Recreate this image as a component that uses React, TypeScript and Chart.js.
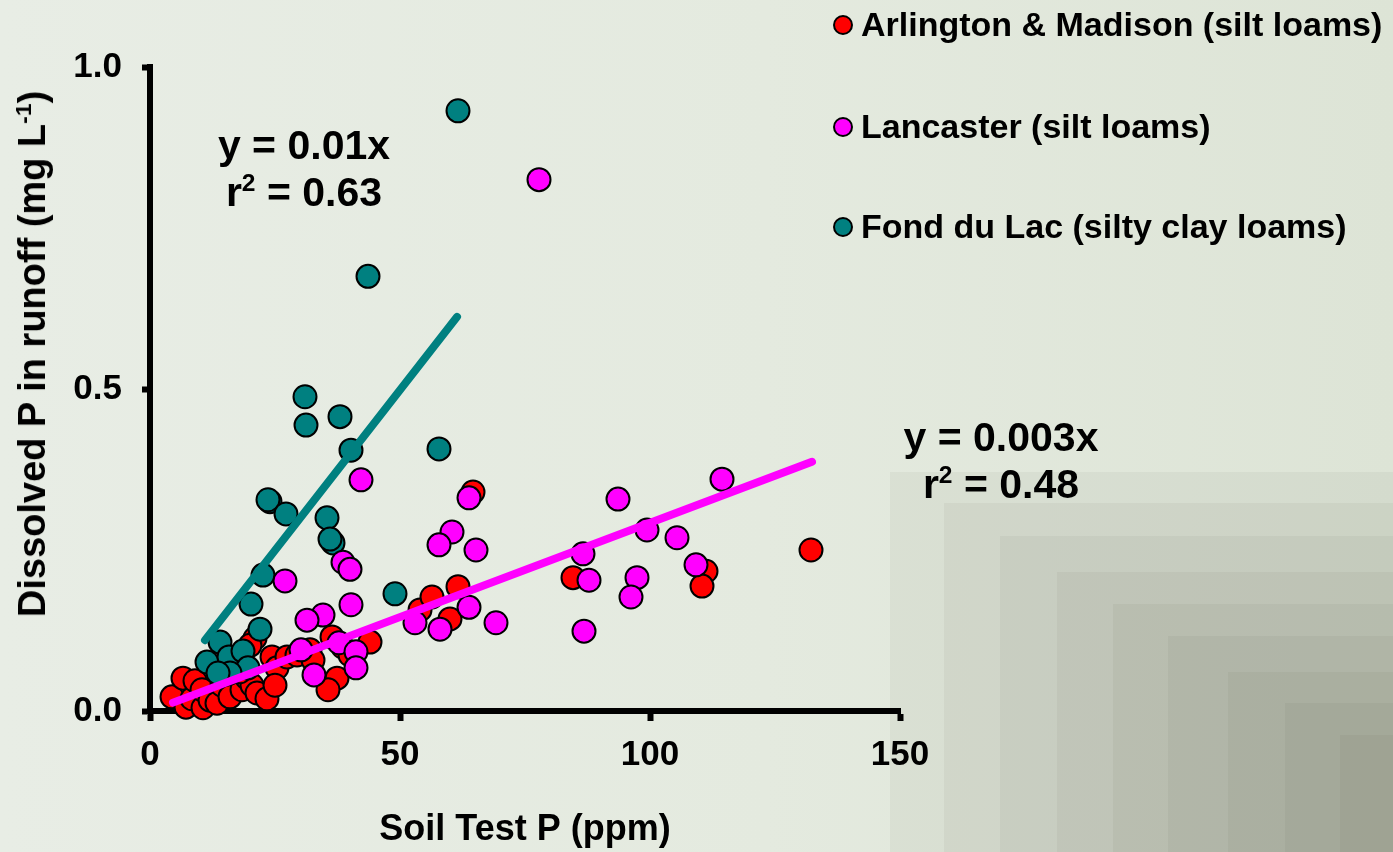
import React, { useEffect, useRef } from "react";
import { Chart, registerables } from "chart.js";

Chart.register(...registerables);

// ---------------- data ----------------
const seriesNames = [
  "Arlington & Madison (silt loams)",
  "Lancaster (silt loams)",
  "Fond du Lac (silty clay loams)",
];
const seriesColors = ["#ff0000", "#ff00ff", "#008080"];

// Soil Test P (ppm), Dissolved P (mg/L)
const arlingtonPoints: [number, number][] = [
  [4.4, 0.022], [6.6, 0.051], [7.2, 0.006], [8.4, 0.019], [9.0, 0.047],
  [10.6, 0.005], [10.4, 0.033], [12.0, 0.017], [13.4, 0.012], [14.4, 0.04],
  [16.0, 0.022], [18.4, 0.033], [19.4, 0.051], [20.4, 0.04], [21.4, 0.028],
  [23.4, 0.019], [21.0, 0.113], [20.0, 0.102], [24.4, 0.084], [25.4, 0.067],
  [25.0, 0.04], [18.0, 0.061], [27.4, 0.084], [29.4, 0.087], [32.0, 0.095],
  [36.4, 0.115], [38.6, 0.099], [44.0, 0.107], [32.6, 0.079], [37.4, 0.051],
  [35.6, 0.033], [40.0, 0.087], [54.0, 0.157], [56.4, 0.177], [61.6, 0.193],
  [60.0, 0.143], [64.6, 0.34], [84.6, 0.207], [111.2, 0.217], [110.4, 0.194],
  [132.2, 0.25],
];

const lancasterPoints: [number, number][] = [
  [77.8, 0.825], [42.2, 0.359], [63.8, 0.331], [93.6, 0.329], [114.4, 0.36],
  [99.4, 0.281], [105.4, 0.269], [86.6, 0.244], [60.4, 0.278], [57.8, 0.258],
  [65.2, 0.25], [38.6, 0.231], [40.0, 0.22], [27.0, 0.202], [87.8, 0.203],
  [97.4, 0.207], [109.2, 0.227], [96.2, 0.177], [40.2, 0.165], [34.6, 0.149],
  [31.4, 0.141], [63.8, 0.161], [53.0, 0.137], [58.0, 0.127], [69.2, 0.137],
  [86.8, 0.124], [30.2, 0.095], [37.8, 0.106], [41.2, 0.092], [41.2, 0.067],
  [32.8, 0.056],
];

const fondDuLacPoints: [number, number][] = [
  [61.6, 0.932], [43.6, 0.675], [31.0, 0.488], [31.2, 0.444], [38.0, 0.457],
  [40.2, 0.405], [57.8, 0.407], [24.0, 0.325], [23.6, 0.328], [27.2, 0.306],
  [35.4, 0.3], [36.6, 0.261], [36.0, 0.267], [22.6, 0.211], [20.2, 0.166],
  [22.0, 0.127], [49.0, 0.182], [14.0, 0.107], [11.4, 0.076], [15.8, 0.084],
  [18.6, 0.093], [19.6, 0.067], [16.0, 0.059], [13.6, 0.059],
];

// trend line end points
const fondDuLacTrend: [number, number][] = [[11.0, 0.11], [61.4, 0.612]];
const lancasterTrend: [number, number][] = [[4.6, 0.013], [132.4, 0.387]];

const fondDuLacEquation = ["y = 0.01x", "0.63"];
const lancasterEquation = ["y = 0.003x", "0.48"];

const xTicks = [0, 50, 100, 150];
const yTicks = [0, 0.5, 1.0];

const xTitle = "Soil Test P (ppm)";

// --------------------------------------
const FONT = "'Liberation Sans', Arial, Helvetica, sans-serif";

const toXY = (pts: [number, number][]) => pts.map(([x, y]) => ({ x, y }));

export default function App() {
  const canvasRef = useRef<HTMLCanvasElement | null>(null);

  useEffect(() => {
    if (!canvasRef.current) return;
    const pointStyle = (i: number) => ({
      backgroundColor: seriesColors[i],
      borderColor: "#000000",
      borderWidth: 2,
      pointRadius: 11.5,
      pointHoverRadius: 11.5,
      pointBorderWidth: 2,
      clip: false as any,
    });
    const chart = new Chart(canvasRef.current, {
      type: "scatter",
      data: {
        datasets: [
          {
            label: "Lancaster trend",
            data: toXY(lancasterTrend),
            showLine: true,
            borderColor: seriesColors[1],
            borderWidth: 8,
            borderCapStyle: "round",
            pointRadius: 0,
            order: 0,
          } as any,
          {
            label: "Fond du Lac trend",
            data: toXY(fondDuLacTrend),
            showLine: true,
            borderColor: seriesColors[2],
            borderWidth: 8,
            borderCapStyle: "round",
            pointRadius: 0,
            order: 1,
          } as any,
          { label: seriesNames[1], data: toXY(lancasterPoints), ...pointStyle(1), order: 2 },
          { label: seriesNames[2], data: toXY(fondDuLacPoints), ...pointStyle(2), order: 3 },
          { label: seriesNames[0], data: toXY(arlingtonPoints), ...pointStyle(0), order: 4 },
        ],
      },
      options: {
        animation: false,
        responsive: false,
        maintainAspectRatio: false,
        events: [],
        layout: { padding: { left: 0, top: 67, right: 493, bottom: 0 } },
        plugins: { legend: { display: false }, tooltip: { enabled: false } },
        scales: {
          x: {
            type: "linear",
            min: 0,
            max: 150,
            z: 1,
            afterFit: (s: any) => {
              s.height = 141;
            },
            afterBuildTicks: (s: any) => {
              s.ticks = xTicks.map((v) => ({ value: v }));
            },
            ticks: {
              color: "#000",
              padding: 13,
              font: { family: FONT, size: 35, weight: "bold" },
              callback: (v: any) => String(v),
            },
            grid: {
              drawOnChartArea: false,
              drawTicks: true,
              tickLength: 10,
              tickWidth: 6,
              tickColor: "#000",
            },
            border: { display: true, color: "#000", width: 6 },
            title: {
              display: true,
              text: xTitle,
              color: "#000",
              padding: 0,
              font: { family: FONT, size: 36, weight: "bold" },
            },
          } as any,
          y: {
            type: "linear",
            min: 0,
            max: 1,
            z: 1,
            afterFit: (s: any) => {
              s.width = 150;
            },
            afterBuildTicks: (s: any) => {
              s.ticks = yTicks.map((v) => ({ value: v }));
            },
            ticks: {
              color: "#000",
              padding: 20,
              font: { family: FONT, size: 35, weight: "bold" },
              callback: (v: any) => Number(v).toFixed(1),
            },
            grid: {
              drawOnChartArea: false,
              drawTicks: true,
              tickLength: 8,
              tickWidth: 6,
              tickColor: "#000",
            },
            border: { display: true, color: "#000", width: 6 },
            title: { display: false },
          } as any,
        },
      },
    });
    return () => chart.destroy();
  }, []);

  const stepsLeft = [890, 944, 1000, 1057, 1113, 1168, 1228, 1285, 1340];
  const stepsTop = [472, 503, 536, 572, 604, 636, 672, 703, 735];

  const textBase: React.CSSProperties = {
    position: "absolute",
    fontFamily: FONT,
    fontWeight: "bold",
    color: "#000",
    whiteSpace: "nowrap",
  };

  const legendRowsY = [24, 126, 226];

  return (
    <div
      style={{
        position: "fixed",
        left: 0,
        top: 0,
        width: 1393,
        height: 852,
        overflow: "hidden",
        background: "linear-gradient(90deg, #e8ede5 0%, #e4eadf 55%, #dde4d6 100%)",
      }}
    >
      {stepsLeft.map((l, i) => (
        <div
          key={i}
          style={{
            position: "absolute",
            left: l,
            top: stepsTop[i],
            right: 0,
            bottom: 0,
            background: "rgba(70,80,50,0.055)",
          }}
        />
      ))}
      <canvas
        ref={canvasRef}
        width={1393}
        height={852}
        style={{ position: "absolute", left: 0, top: 0, width: 1393, height: 852 }}
      />
      {/* y-axis title */}
      <div
        style={{
          ...textBase,
          fontSize: 38,
          lineHeight: "40px",
          left: 32,
          top: 354,
          transform: "translate(-50%, -50%) rotate(-90deg)",
        }}
      >
        Dissolved P in runoff (mg L<sup style={{ fontSize: "0.6em", lineHeight: 0 }}>-1</sup>)
      </div>
      {/* equations */}
      <div
        style={{ ...textBase, fontSize: 41, lineHeight: "47px", left: 154, top: 122, width: 300, textAlign: "center" }}
      >
        <div>{fondDuLacEquation[0]}</div>
        <div>
          r<sup style={{ fontSize: "0.6em", lineHeight: 0 }}>2</sup> = {fondDuLacEquation[1]}
        </div>
      </div>
      <div
        style={{ ...textBase, fontSize: 41, lineHeight: "47px", left: 851, top: 414, width: 300, textAlign: "center" }}
      >
        <div>{lancasterEquation[0]}</div>
        <div>
          r<sup style={{ fontSize: "0.6em", lineHeight: 0 }}>2</sup> = {lancasterEquation[1]}
        </div>
      </div>
      {/* legend */}
      {seriesNames.map((name, i) => (
        <React.Fragment key={name}>
          <div
            style={{
              position: "absolute",
              left: 833,
              top: legendRowsY[i] - 9,
              width: 16,
              height: 16,
              borderRadius: "50%",
              background: seriesColors[i],
              border: "2px solid #000",
            }}
          />
          <div style={{ ...textBase, fontSize: 34, lineHeight: "34px", left: 861, top: legendRowsY[i] - 17 }}>
            {name}
          </div>
        </React.Fragment>
      ))}
    </div>
  );
}
